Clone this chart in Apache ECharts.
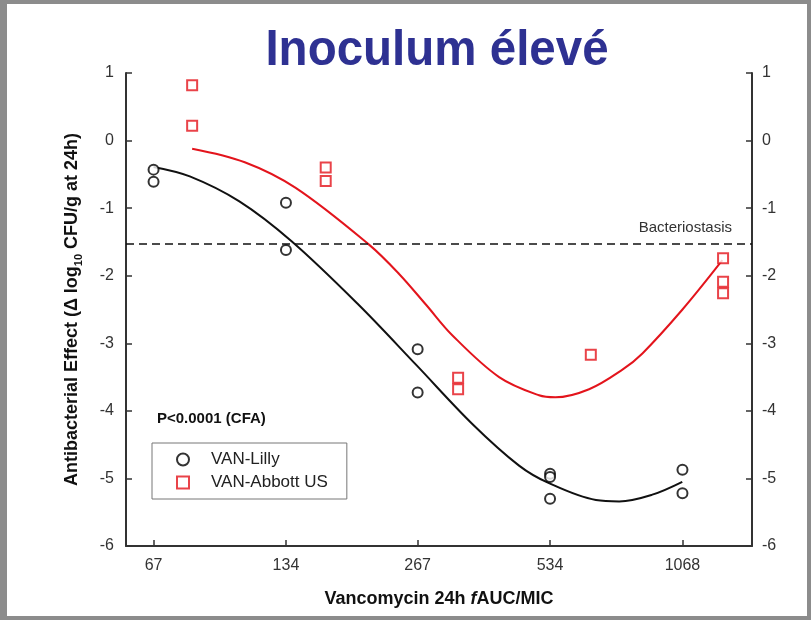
<!DOCTYPE html>
<html lang="fr">
<head>
  <meta charset="UTF-8">
  <title>Inoculum élevé</title>
  <style>
    body { margin: 0; padding: 0; background: #fff; }
    #wrap { position: relative; width: 811px; height: 620px; }
    #chart { width: 811px; height: 620px; }
    /* grey picture frame */
    #frame {
      position: absolute; left: 0; top: 0; right: 0; bottom: 0;
      border: 4px solid #8c8c8c; border-left-width: 7px;
      pointer-events: none;
    }
  </style>
  <script src="https://cdn.jsdelivr.net/npm/echarts@6/dist/echarts.min.js"></script>
</head>
<body>
  <div id="wrap">
    <div id="chart"></div>
    <div id="frame"></div>
  </div>
  <script>
    // x axis is log2-spaced: each tick is a doubling of fAUC/MIC
    const tickDoses = [67, 134, 267, 534, 1068];
    const xMinDose = 58;
    const xMaxDose = 1537;

    // observed points
    const lillyDose = [67, 67, 134, 134, 267, 267, 534, 534, 534, 1068, 1068];
    const lillyEffect = [-0.43, -0.61, -0.92, -1.62, -3.09, -3.73, -4.93, -4.98, -5.30, -4.87, -5.22];
    const abbottDose = [82, 82, 165, 165, 330, 330, 661, 1321, 1321, 1321];
    const abbottEffect = [0.82, 0.22, -0.40, -0.60, -3.51, -3.68, -3.17, -1.74, -2.09, -2.26];

    // fitted curves
    const lillyCurveDose = [67, 81, 105, 138, 196, 265, 355, 454, 531, 679, 767, 912, 1067];
    const lillyCurveEffect = [-0.39, -0.53, -0.90, -1.49, -2.43, -3.32, -4.19, -4.81, -5.07, -5.32, -5.34, -5.24, -5.05];
    const abbottCurveDose = [82, 108, 141, 207, 242, 279, 320, 409, 504, 549, 655, 780, 866, 1068, 1316];
    const abbottCurveEffect = [-0.12, -0.32, -0.70, -1.54, -1.97, -2.43, -2.88, -3.50, -3.77, -3.80, -3.68, -3.39, -3.15, -2.50, -1.77];

    const stasisLevel = -1.52;

    const BASE = 66.75;
    const lg = d => Math.log2(d / BASE);
    const pairs = (xs, ys) => xs.map((x, i) => [lg(x), ys[i]]);

    const FONT = 'Liberation Sans, Arial, sans-serif';
    const RED = '#e3141c';
    const INK = '#111';

    let chart = echarts.init(document.getElementById('chart'));

    const yAxisBase = {
      type: 'value', min: -6, max: 1, interval: 1,
      axisLine: { show: true, onZero: false, lineStyle: { color: '#333', width: 2 } },
      axisTick: { show: true, inside: true, length: 6, lineStyle: { color: '#333', width: 1.5 } },
      splitLine: { show: false },
      axisLabel: { color: '#333', fontSize: 16, fontFamily: FONT, margin: 12 }
    };

    let option = {
      animation: false,
      backgroundColor: '#fff',
      grid: { left: 126, right: 59, top: 73, bottom: 74 },
      graphic: [
        {
          type: 'text', x: 437, y: 26, scaleX: 0.95,
          style: { text: 'Inoculum élevé', fill: '#2e3192', font: 'bold 50px ' + FONT, textAlign: 'center', textVerticalAlign: 'top' }
        },
        {
          type: 'text', left: 157, top: 411,
          style: { text: 'P<0.0001 (CFA)', fill: INK, font: 'bold 15px ' + FONT }
        }
      ],
      legend: {
        left: 152, top: 443, orient: 'vertical',
        data: ['VAN-Lilly', 'VAN-Abbott US'],
        itemWidth: 12, itemHeight: 12, itemGap: 6,
        padding: [8, 19, 8, 24],
        borderColor: '#777', borderWidth: 1,
        textStyle: { color: '#222', fontSize: 17, fontFamily: FONT, padding: [0, 0, 0, 17] }
      },
      xAxis: {
        type: 'value', min: lg(xMinDose), max: lg(xMaxDose),
        name: '{b|Vancomycin 24h }{i|f}{b|AUC/MIC}',
        nameLocation: 'middle', nameGap: 44,
        nameTextStyle: {
          rich: {
            b: { fontSize: 18, fontWeight: 'bold', color: INK, fontFamily: FONT },
            i: { fontSize: 18, fontWeight: 'bold', fontStyle: 'italic', color: INK, fontFamily: FONT }
          }
        },
        axisLine: { show: true, onZero: false, lineStyle: { color: '#333', width: 2 } },
        axisTick: { show: true, inside: true, length: 6, customValues: tickDoses.map(lg), lineStyle: { color: '#333', width: 1.5 } },
        axisLabel: {
          customValues: tickDoses.map(lg), color: '#333', fontSize: 16, fontFamily: FONT, margin: 12,
          formatter: v => String(Math.round(BASE * Math.pow(2, v)))
        },
        splitLine: { show: false }
      },
      yAxis: [
        Object.assign({}, yAxisBase, {
          position: 'left',
          name: '{a|Antibacterial Effect (Δ log}{s|10}{a| CFU/g at 24h)}',
          nameLocation: 'middle', nameRotate: 90, nameGap: 42,
          nameTextStyle: {
            rich: {
              a: { fontSize: 18, fontWeight: 'bold', color: INK, fontFamily: FONT, lineHeight: 24 },
              s: { fontSize: 11, fontWeight: 'bold', color: INK, fontFamily: FONT, lineHeight: 12, verticalAlign: 'bottom' }
            }
          }
        }),
        Object.assign({}, yAxisBase, { position: 'right', axisLabel: Object.assign({}, yAxisBase.axisLabel, { margin: 10 }) })
      ],
      series: [
        {
          name: 'Lilly fit', type: 'line', data: pairs(lillyCurveDose, lillyCurveEffect),
          showSymbol: false, smooth: 0.35, lineStyle: { color: INK, width: 2 }, z: 2,
          markLine: {
            silent: true, symbol: 'none',
            lineStyle: { color: INK, type: [8, 5], width: 1.5 },
            label: {
              formatter: 'Bacteriostasis', position: 'insideEndTop', distance: [20, 8],
              color: '#333', fontSize: 15, fontFamily: FONT
            },
            data: [{ yAxis: stasisLevel }]
          }
        },
        {
          name: 'Abbott fit', type: 'line', data: pairs(abbottCurveDose, abbottCurveEffect),
          showSymbol: false, smooth: 0.35, lineStyle: { color: RED, width: 2 }, z: 2
        },
        {
          name: 'VAN-Lilly', type: 'scatter', data: pairs(lillyDose, lillyEffect),
          symbol: 'emptyCircle', symbolSize: 10,
          itemStyle: { color: '#000', borderWidth: 2 }, z: 3
        },
        {
          name: 'VAN-Abbott US', type: 'scatter', data: pairs(abbottDose, abbottEffect),
          symbol: 'emptyRect', symbolSize: 10,
          itemStyle: { color: RED, borderWidth: 2 }, z: 3
        }
      ]
    };
    chart.setOption(option);
  </script>
</body>
</html>
